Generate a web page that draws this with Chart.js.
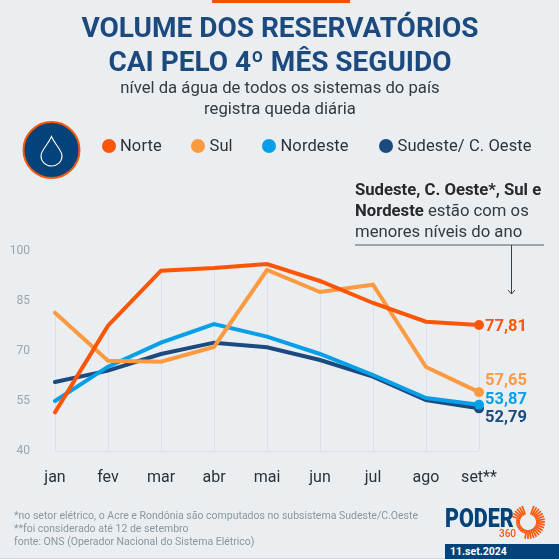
<!DOCTYPE html>
<html lang="pt-BR">
<head>
<meta charset="utf-8">
<title>Volume dos reservatórios</title>
<script src="https://cdn.jsdelivr.net/npm/chart.js@4/dist/chart.umd.min.js"></script>
<style>
  html, body { margin: 0; padding: 0; }
  body { width: 559px; height: 559px; background: #ebeef1; position: relative; overflow: hidden; font-family: Roboto, sans-serif; }
  canvas { position: absolute; left: 0; top: 0; }
  .t { position: absolute; white-space: nowrap; }
  .title { left: 0; width: 560px; text-align: center; font-weight: 700; font-size: 28px; color: #1c4a7f; line-height: 34px; }
  .sub { left: 0; width: 560px; text-align: center; font-size: 16.7px; color: #333a40; line-height: 21px; }
  .leg { font-size: 16.5px; color: #2c3338; line-height: 20px; top: 136px; letter-spacing: .1px; }
  .dot { position: absolute; width: 14px; height: 14px; border-radius: 50%; top: 139px; }
  .note { left: 355px; top: 179px; font-size: 16.7px; line-height: 21px; color: #333a40; }
  .note b { color: #26292c; }
  .foot { left: 14px; top: 509px; font-size: 10.5px; line-height: 13px; color: #8a969e; }
  .logo { left: 445px; top: 504px; font-weight: 900; font-size: 25px; color: #03437a; line-height: 30px; transform: scaleX(.86); transform-origin: left top; }
  .n360 { left: 499px; top: 528px; font-size: 10px; font-weight: 500; color: #fb5607; line-height: 11px; }
  .date { left: 445px; top: 544px; width: 114px; height: 15px; background: #03437a; color: #fff; font-weight: 700; font-size: 10.5px; line-height: 15px; text-indent: 5px; }
  svg { position: absolute; left: 0; top: 0; }
</style>
</head>
<body>
<canvas id="myChart" width="559" height="559"></canvas>

<svg id="deco" width="559" height="559">
  <rect x="212" y="0" width="138" height="3" fill="#fb4f08"/>
  <circle cx="51.5" cy="150" r="28" fill="#03437a" stroke="#f4590f" stroke-width="2"/>
  <path d="M51.5 136.5 C48 145 41 150 41 156 A10.5 10 0 0 0 62 156 C62 150 55 145 51.5 136.5 Z" fill="none" stroke="#fff" stroke-width="1.1"/>
  <line x1="355" y1="245" x2="544" y2="245" stroke="#555b60" stroke-width="1"/>
  <path d="M511.5 245 V294 M508 290 L511.5 294 L515 290" fill="none" stroke="#3a3f44" stroke-width="1"/>
  <line x1="0" y1="558.5" x2="559" y2="558.5" stroke="#d5d9dd" stroke-width="1"/>
</svg>

<div class="t title" style="top:11px">VOLUME DOS RESERVATÓRIOS</div>
<div class="t title" style="top:45px">CAI PELO 4º MÊS SEGUIDO</div>
<div class="t sub" style="top:77px">nível da água de todos os sistemas do país</div>
<div class="t sub" style="top:98px">registra queda diária</div>

<div id="legend"></div>

<div class="t note"><b>Sudeste, C. Oeste*, Sul e</b><br><b>Nordeste</b> estão com os<br>menores níveis do ano</div>

<div class="t foot">*no setor elétrico, o Acre e Rondônia são computados no subsistema Sudeste/C.Oeste<br>**foi considerado até 12 de setembro<br>fonte: ONS (Operador Nacional do Sistema Elétrico)</div>
<div class="t logo">PODER</div>
<div class="t n360">360</div>
<div class="t date">11.set.2024</div>

<script>
const months = ['jan', 'fev', 'mar', 'abr', 'mai', 'jun', 'jul', 'ago', 'set**'];
const yTicks = [40, 55, 70, 85, 100];

const norte = [51.6, 77.6, 94.1, 94.9, 96.1, 91, 84.4, 78.8, 77.81];
const sul = [81.5, 67.1, 66.8, 71.2, 94.3, 87.7, 89.9, 65.2, 57.65];
const nordeste = [55, 65.3, 72.5, 78.1, 74.3, 69.1, 62.8, 55.9, 53.87];
const sudeste = [60.7, 64.1, 69.1, 72.5, 71.1, 67.3, 62.3, 55.3, 52.79];

const seriesNames = ['Norte', 'Sul', 'Nordeste', 'Sudeste/ C. Oeste'];
const seriesColors = ['#fb5607', '#fb9a40', '#069fe8', '#1c4a7f'];
const endLabels = ['77,81', '57,65', '53,87', '52,79'];
// the end labels are pushed apart so they dont overlap
const labelNudge = [2, -11, -5, 10];
const legendX = [108.5, 198, 269, 386];

// legend is html because the spacing in the original is uneven
const legendBox = document.getElementById('legend');
seriesNames.forEach((name, i) => {
  legendBox.innerHTML += '<span class="dot" style="left:' + (legendX[i] - 7) + 'px;background:' + seriesColors[i] + '"></span>'
    + '<span class="t leg" style="left:' + (legendX[i] + 11.5) + 'px">' + name + '</span>';
});

// sun of the logo
const deco = document.getElementById('deco');
let rays = '';
for (let a = -70; a < 260; a += 10) {
  const r = a * Math.PI / 180;
  const inner = 8, outer = (a > 100 && a < 200) ? 12 : 17;
  rays += '<line x1="' + (528 + inner * Math.cos(r)) + '" y1="' + (522 + inner * Math.sin(r)) + '" x2="' + (528 + outer * Math.cos(r)) + '" y2="' + (522 + outer * Math.sin(r)) + '" stroke="#fb5607" stroke-width="1.7"/>';
}
deco.innerHTML += rays;

// vertical guides go from the axis only up to the highest line
const dropLines = {
  id: 'dropLines',
  beforeDatasetsDraw(chart) {
    const { ctx, scales: { x, y } } = chart;
    ctx.save();
    ctx.strokeStyle = '#dde1e5';
    ctx.lineWidth = 1;
    months.forEach((m, i) => {
      const top = Math.max(norte[i], sul[i], nordeste[i], sudeste[i]);
      const px = Math.round(x.getPixelForValue(i)) + 0.5;
      ctx.beginPath();
      ctx.moveTo(px, y.getPixelForValue(top));
      ctx.lineTo(px, y.bottom);
      ctx.stroke();
    });
    ctx.beginPath();
    ctx.moveTo(x.left, y.bottom + 0.5);
    ctx.lineTo(x.right, y.bottom + 0.5);
    ctx.stroke();
    ctx.restore();
  }
};

// dots and value labels at the end of each line
const endMarks = {
  id: 'endMarks',
  afterDatasetsDraw(chart) {
    const { ctx, scales: { x, y } } = chart;
    const last = months.length - 1;
    const px = x.getPixelForValue(last);
    ctx.save();
    [3, 0, 1, 2].forEach(i => {
      const val = chart.data.datasets[i].data[last];
      ctx.fillStyle = seriesColors[i];
      ctx.beginPath();
      ctx.arc(px, y.getPixelForValue(val), 5, 0, Math.PI * 2);
      ctx.fill();
    });
    ctx.font = '700 16.5px Roboto';
    ctx.textAlign = 'left';
    ctx.textBaseline = 'middle';
    seriesNames.forEach((n, i) => {
      const val = chart.data.datasets[i].data[last];
      ctx.fillStyle = seriesColors[i];
      ctx.fillText(endLabels[i], px + 6, y.getPixelForValue(val) + labelNudge[i]);
    });
    ctx.restore();
  }
};

new Chart(document.getElementById('myChart'), {
  type: 'line',
  data: {
    labels: months,
    datasets: [norte, sul, nordeste, sudeste].map((vals, i) => ({
      label: seriesNames[i],
      data: vals,
      borderColor: seriesColors[i],
      backgroundColor: seriesColors[i],
      borderWidth: 4,
      pointRadius: 0,
      tension: 0,
      fill: false,
      borderCapStyle: 'round',
      borderJoinStyle: 'miter'
    }))
  },
  options: {
    responsive: false,
    animation: false,
    layout: { padding: { left: 0, right: 80, top: 251, bottom: 0 } },
    plugins: {
      legend: { display: false },
      tooltip: { enabled: false }
    },
    scales: {
      x: {
        offset: false,
        grid: { display: false },
        border: { display: false },
        afterFit(scale) { scale.height = 108; },
        ticks: {
          color: '#2c3338',
          font: { family: 'Roboto', size: 16 },
          padding: 9,
          maxRotation: 0,
          autoSkip: false
        }
      },
      y: {
        min: 40,
        max: 100,
        afterBuildTicks(scale) { scale.ticks = yTicks.map(v => ({ value: v })); },
        afterFit(scale) { scale.width = 55; },
        grid: { display: false },
        border: { display: false },
        ticks: {
          color: '#9aa6ae',
          font: { family: 'Roboto', size: 12 },
          padding: 17,
          z: 1
        }
      }
    }
  },
  plugins: [dropLines, endMarks]
});
</script>
</body>
</html>
